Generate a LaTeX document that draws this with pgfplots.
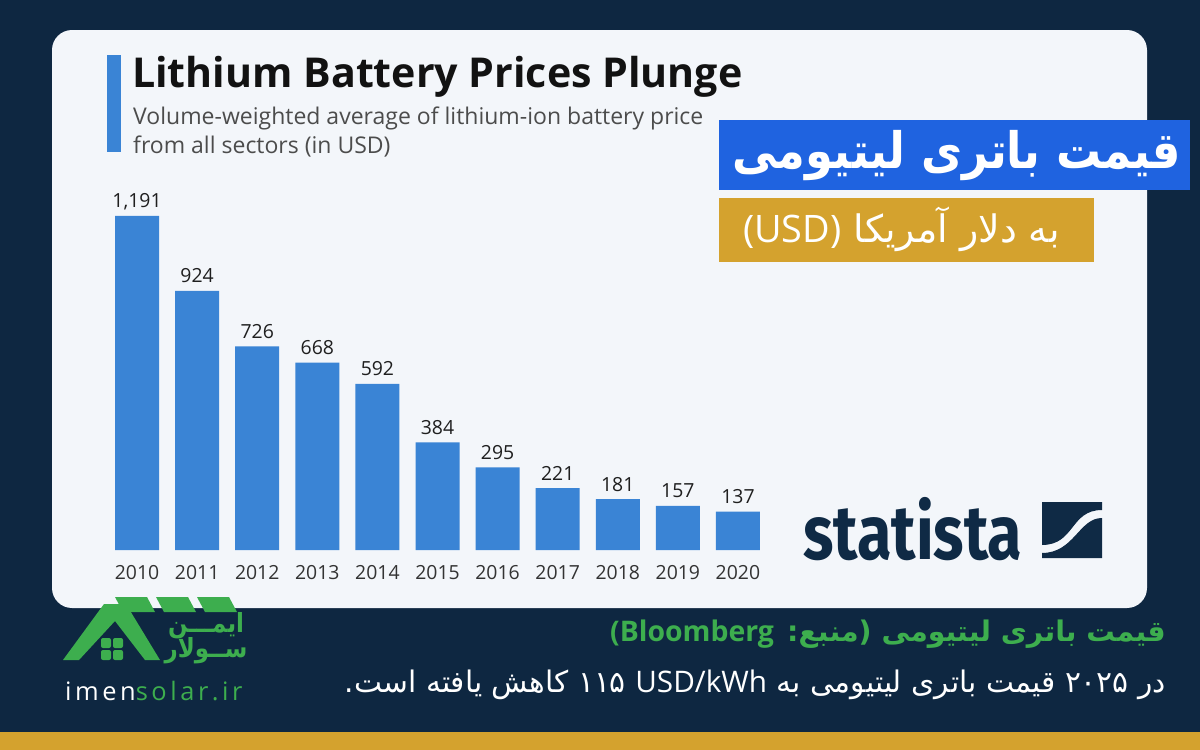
\documentclass[border=0pt]{standalone}
\usepackage{fontspec}
\usepackage{pgfplots}
\pgfplotsset{compat=1.18}
\TeXXeTstate=1
\setmainfont{Open Sans}
\newfontfamily\fa[Script=Arabic]{DejaVu Sans}
\newfontfamily\logofont{Fira Sans}
\newfontfamily\sitefont[LetterSpace=14]{Open Sans}

\definecolor{navy}{HTML}{0E2741}
\definecolor{panel}{HTML}{F3F6FA}
\definecolor{barblue}{HTML}{3A84D5}
\definecolor{boxblue}{HTML}{1F63E0}
\definecolor{gold}{HTML}{D4A22E}
\definecolor{imengreen}{HTML}{3DAE4E}
\definecolor{statnavy}{HTML}{0F2A45}
\definecolor{ticktext}{HTML}{333333}

\pgfkeys{/pgf/number format/.cd, assume math mode=true, fixed, precision=0, 1000 sep={,}}

\begin{document}
\begin{tikzpicture}
\useasboundingbox (0,0) rectangle (1200bp,-750bp);
\begin{scope}[x=1bp,y=-1bp]
  % background, panel and bottom strip
  \fill[navy] (0,0) rectangle (1200,750);
  \fill[panel, rounded corners=20bp] (52,30) rectangle (1147,608);
  \fill[gold] (0,732) rectangle (1200,750);

  % heading
  \fill[barblue] (107,55) rectangle (121,152);
  \node[anchor=base west, inner sep=0, text=black!93] at (132,87)
    {\fontsize{41.3}{41}\selectfont\bfseries Lithium Battery Prices Plunge};
  \node[anchor=base west, inner sep=0, text=black!70] at (133,124)
    {\fontsize{23.1}{23}\selectfont Volume-weighted average of lithium-ion battery price};
  \node[anchor=base west, inner sep=0, text=black!70] at (133,153)
    {\fontsize{23.1}{23}\selectfont from all sectors (in USD)};

  % Persian title boxes
  \fill[boxblue] (719,120) rectangle (1190,190);
  \node[text=white, inner sep=0] at (957,156)
    {\scalebox{1}[1.12]{\fa\bfseries\fontsize{45}{45}\selectfont\beginR قیمت باتری لیتیومی\endR}};
  \fill[gold] (719,198) rectangle (1094,262);
  \node[anchor=east, text=white, inner sep=0] at (1060,229)
    {\fa\fontsize{38}{38}\selectfont\beginR به دلار آمریکا \beginL{\rmfamily(USD)}\endL\endR};

  % statista logo
  \node[anchor=base west, inner sep=0, text=statnavy] at (803,559)
    {\scalebox{1.02}[1.24]{\logofont\bfseries\fontsize{62}{62}\selectfont statista}};
  \fill[statnavy] (1042,502) -- (1102,502) -- (1102,510)
    .. controls (1070,510) and (1075,545) .. (1042,545) -- cycle;
  \fill[statnavy] (1102,518) .. controls (1079,518) and (1074,553) .. (1042,553)
    -- (1042,558) -- (1102,558) -- cycle;

  % imen solar logo
  \foreach \s in {115,156,197}
    \fill[imengreen] (\s,597) -- (\s+32,597) -- (\s+40,612) -- (\s+8,612) -- cycle;
  \fill[imengreen] (63,660) -- (104,604) -- (126,604) -- (160,660) -- (145,660)
    -- (115,621) -- (79,660) -- cycle;
  \foreach \a/\b in {101/638,113/638,101/650,113/650}
    \fill[imengreen, rounded corners=2bp] (\a,\b) rectangle (\a+10,\b+10);
  \node[text=imengreen, inner sep=0] at (206,626)
    {\scalebox{1}[1.15]{\fa\bfseries\fontsize{23}{23}\selectfont\beginR ایمـــن\endR}};
  \node[text=imengreen, inner sep=0] at (206,651)
    {\scalebox{1}[1.15]{\fa\bfseries\fontsize{23}{23}\selectfont\beginR ســولار\endR}};
  \node[anchor=base west, inner sep=0] at (65,700)
    {\sitefont\fontsize{25.5}{25}\selectfont\textcolor{white}{imen}\textcolor{imengreen}{solar.ir}};

  % source notes
  \node[anchor=east, text=imengreen, inner sep=0] at (1166,634)
    {\fa\bfseries\fontsize{28.5}{28}\selectfont\beginR قیمت باتری لیتیومی (منبع: \beginL{\rmfamily\bfseries(Bloomberg}\endL\endR};
  \node[anchor=east, text=white, inner sep=0] at (1166,685)
    {\fa\fontsize{29.8}{29}\selectfont\beginR در ۲۰۲۵ قیمت باتری لیتیومی به \beginL{\rmfamily USD/kWh}\endL{} ۱۱۵ کاهش یافته است.\endR};
\end{scope}

\begin{axis}[
  at={(107bp,-550bp)}, anchor=south west,
  scale only axis, width=661bp, height=336.6bp,
  xmin=-0.5, xmax=10.5, ymin=0, ymax=1200,
  axis line style={draw=none}, major tick length=0pt,
  ytick=\empty,
  xtick={0,1,2,3,4,5,6,7,8,9,10},
  xticklabels={2010,2011,2012,2013,2014,2015,2016,2017,2018,2019,2020},
  xticklabel style={font=\fontsize{19.5}{20}\selectfont, text=ticktext, anchor=base, yshift=-29bp},
  ybar, bar width=44bp, bar shift=0pt,
  nodes near coords,
  nodes near coords style={font=\fontsize{19.5}{20}\selectfont, text=black!88, anchor=base, inner sep=0pt, yshift=8bp},
  clip=false,
]
\addplot[fill=barblue, draw=none] coordinates {
  (0,1191) (1,924) (2,726) (3,668) (4,592) (5,384)
  (6,295) (7,221) (8,181) (9,157) (10,137)};
\end{axis}
\end{tikzpicture}
\end{document}
